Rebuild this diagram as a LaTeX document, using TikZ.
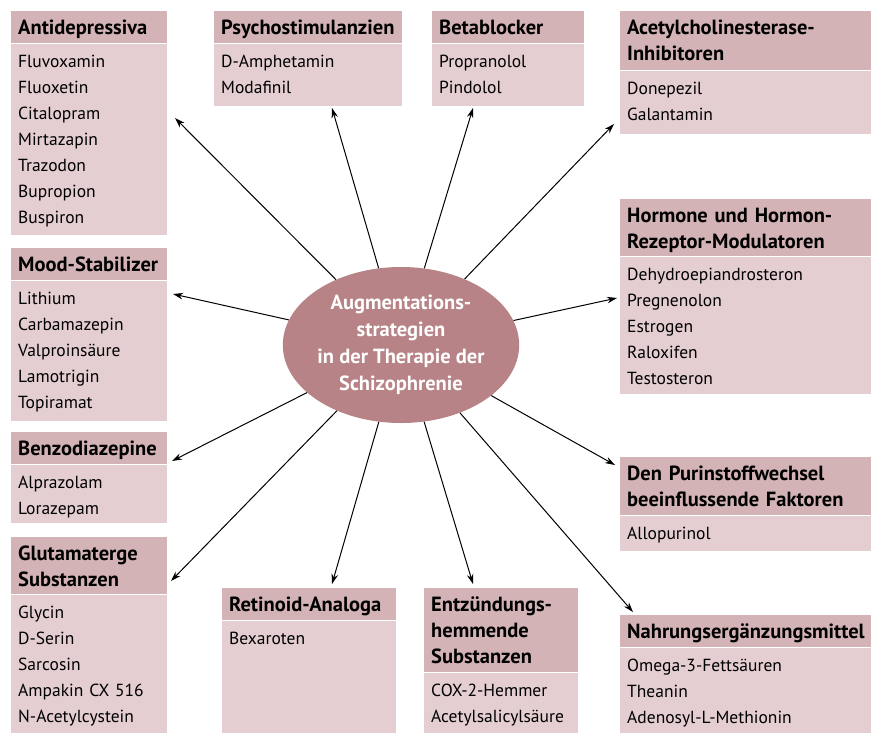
\documentclass[tikz,border=0pt]{standalone}
\usepackage{fontspec}
\setmainfont{PT Sans}
\usepackage{xcolor}
\usetikzlibrary{shapes.geometric, arrows.meta, positioning}

\definecolor{headfill}{HTML}{D3B3B5}
\definecolor{bodyfill}{HTML}{E4CED1}
\definecolor{hubfill}{HTML}{B78386}

\tikzset{
  head/.style={anchor=north west, fill=headfill, inner xsep=7pt, inner ysep=0pt,
    text height=23pt, text depth=#1, align=left,
    font=\fontsize{20.5pt}{26pt}\selectfont\bfseries},
  body/.style={anchor=north west, fill=bodyfill, inner xsep=7pt, inner ysep=0pt,
    text height=24pt, text depth=#1, align=left,
    font=\fontsize{17.5pt}{26pt}\selectfont},
  hub/.style={ellipse, fill=hubfill, text=white, align=center, inner sep=0pt,
    minimum width=228pt, minimum height=156pt,
    font=\fontsize{20.5pt}{27pt}\selectfont\bfseries},
  link/.style={line width=1pt, -{Stealth[length=10pt,width=6.5pt]}}
}

\begin{document}
\begin{tikzpicture}[x=1pt, y=-1pt]
\useasboundingbox (0,0) rectangle (872,733);

% Centre
\node[hub] (hub) at (401,345) {Augmentations-\\strategien\\in der Therapie der\\Schizophrenie};

% Left column
\node[head=9pt, text width=142pt] (antiH) at (11,11) {Antidepressiva};
\node[body=167pt, text width=142pt, below=0pt of antiH.south west, anchor=north west] (antiB)
  {Fluvoxamin\\Fluoxetin\\Citalopram\\Mirtazapin\\Trazodon\\Bupropion\\Buspiron};

\node[head=9pt, text width=142pt] (moodH) at (11,248) {Mood-Stabilizer};
\node[body=116pt, text width=142pt, below=0pt of moodH.south west, anchor=north west] (moodB)
  {Lithium\\Carbamazepin\\Valproinsäure\\Lamotrigin\\Topiramat};

\node[head=9pt, text width=142pt] (benzoH) at (11,432) {Benzodiazepine};
\node[body=34pt, text width=142pt, below=0pt of benzoH.south west, anchor=north west] (benzoB)
  {Alprazolam\\Lorazepam};

\node[head=34pt, text width=142pt] (glutH) at (11,537) {Glutamaterge\\Substanzen};
\node[body=114pt, text width=142pt, below=0pt of glutH.south west, anchor=north west] (glutB)
  {Glycin\\D-Serin\\Sarcosin\\Ampakin CX 516\\N-Acetylcystein};

% Top row
\node[head=9pt, text width=174pt] (psyH) at (214,11) {Psychostimulanzien};
\node[body=38pt, text width=174pt, below=0pt of psyH.south west, anchor=north west] (psyB)
  {D-Amphetamin\\Modafinil};

\node[head=9pt, text width=138pt] (betaH) at (432,11) {Betablocker};
\node[body=38pt, text width=138pt, below=0pt of betaH.south west, anchor=north west] (betaB)
  {Propranolol\\Pindolol};

% Right column
\node[head=36pt, text width=237pt] (acheH) at (620,11) {Acetylcholinesterase-\\Inhibitoren};
\node[body=39pt, text width=237pt, below=0pt of acheH.south west, anchor=north west] (acheB)
  {Donepezil\\Galantamin};

\node[head=34pt, text width=237pt] (hormH) at (620,199) {Hormone und Hormon-\\Rezeptor-Modulatoren};
\node[body=113pt, text width=237pt, below=0pt of hormH.south west, anchor=north west] (hormB)
  {Dehydroepiandrosteron\\Pregnenolon\\Estrogen\\Raloxifen\\Testosteron};

\node[head=35pt, text width=237pt] (purinH) at (620,457) {Den Purinstoffwechsel\\beeinflussende Faktoren};
\node[body=11pt, text width=237pt, below=0pt of purinH.south west, anchor=north west] (purinB)
  {Allopurinol};

\node[head=9pt, text width=237pt] (nahrH) at (620,615) {Nahrungsergänzungsmittel};
\node[body=61pt, text width=237pt, below=0pt of nahrH.south west, anchor=north west] (nahrB)
  {Omega-3-Fettsäuren\\Theanin\\Adenosyl-L-Methionin};

% Bottom row
\node[head=9pt, text width=160pt] (retinH) at (222,588) {Retinoid-Analoga};
\node[body=88pt, text width=160pt, below=0pt of retinH.south west, anchor=north west] (retinB)
  {Bexaroten};

\node[head=61pt, text width=140pt] (entzH) at (424,588) {Entzündungs-\\hemmende\\Substanzen};
\node[body=36pt, text width=140pt, below=0pt of entzH.south west, anchor=north west] (entzB)
  {COX-2-Hemmer\\Acetylsalicylsäure};

% Arrow tips
\coordinate (antiT)  at (175,118);
\coordinate (psyT)   at (332,108);
\coordinate (betaT)  at (473,108);
\coordinate (acheT)  at (614,124);
\coordinate (moodT)  at (173,294);
\coordinate (hormT)  at (617,298);
\coordinate (benzoT) at (172,461);
\coordinate (purinT) at (615,465);
\coordinate (glutT)  at (171,581);
\coordinate (retinT) at (332,584);
\coordinate (entzT)  at (473,584);
\coordinate (nahrT)  at (633,612);

% Links
\foreach \t in {antiT, psyT, betaT, acheT, moodT, hormT, benzoT, purinT, glutT, retinT, entzT, nahrT}
  \draw[link] (hub) -- (\t);
\end{tikzpicture}
\end{document}
